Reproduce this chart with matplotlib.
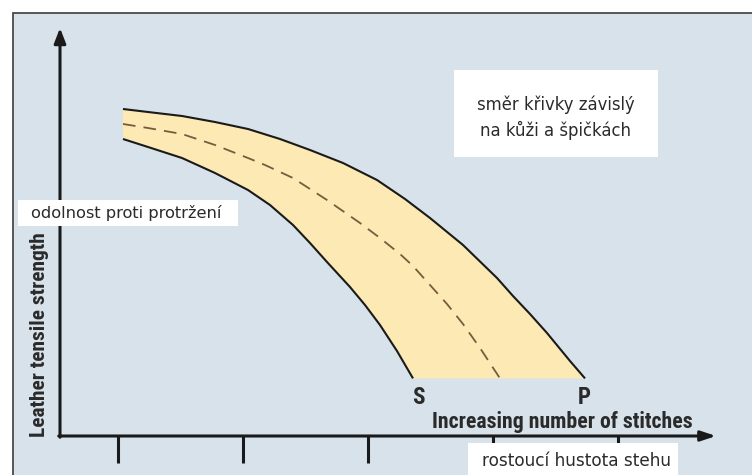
import matplotlib
matplotlib.use("Agg")
import matplotlib.pyplot as plt
from matplotlib import font_manager
from matplotlib.patches import Rectangle

# curve data (x: stitch density, y: leather tensile strength)
upper_x = [1.04, 1.24, 1.512, 1.776, 2.04, 2.296, 2.536, 2.80, 3.072,
           3.296, 3.496, 3.76, 4.032, 4.16, 4.296, 4.432, 4.616, 4.736]
upper_y = [8.175, 8.10, 8.00, 7.85, 7.675, 7.425, 7.15, 6.825, 6.40,
           5.925, 5.45, 4.775, 3.95, 3.50, 3.05, 2.575, 1.875, 1.44]

mid_x = [1.04, 1.24, 1.512, 1.776, 2.04, 2.176, 2.40, 2.672, 2.936,
         3.096, 3.256, 3.36, 3.632, 3.76, 3.896, 4.056]
mid_y = [7.80, 7.70, 7.55, 7.275, 6.95, 6.775, 6.45, 5.90, 5.325,
         4.95, 4.55, 4.25, 3.30, 2.80, 2.20, 1.44]

lower_x = [1.04, 1.24, 1.512, 1.776, 2.04, 2.216, 2.40, 2.536, 2.672,
           2.856, 2.976, 3.096, 3.232, 3.36]
lower_y = [7.425, 7.225, 6.95, 6.575, 6.15, 5.775, 5.275, 4.825, 4.35,
           3.725, 3.275, 2.775, 2.125, 1.44]

tick_pos = [1, 2, 3, 4, 5]

ylabel = "Leather tensile strength"
xlabel = "Increasing number of stitches"
ylabel_cz = "odolnost proti protržení"
xlabel_cz = "rostoucí hustota stehu"
note_cz = "směr křivky závislý\nna kůži a špičkách"

# pick a narrow bold face if one is installed
names = {f.name for f in font_manager.fontManager.ttflist}
narrow = "Liberation Sans"
for cand in ["Liberation Sans Narrow", "Roboto Condensed", "Open Sans Condensed",
             "DejaVu Sans Condensed", "Liberation Sans"]:
    if cand in names:
        narrow = cand
        break
plain = "DejaVu Sans"

fig = plt.figure(figsize=(7.52, 4.75), dpi=100)
ax = fig.add_axes([0, 0, 1, 1])
ax.set_xlim(0.056, 6.072)
ax.set_ylim(-0.975, 10.9)
ax.axis("off")
renderer = fig.canvas.get_renderer()


def fit(txt, target, vertical=False):
    # scale font so the text spans the same pixel length as the reference
    bb = txt.get_window_extent(renderer)
    size = bb.height if vertical else bb.width
    txt.set_fontsize(txt.get_fontsize() * target / size)


# background panel with top/left border
ax.add_patch(Rectangle((0.16, -3), 8, 13.575, facecolor="#d8e2ea",
                       edgecolor="#4a4a4a", linewidth=1.3, zorder=0))

# band between the two curves
poly_x = upper_x + lower_x[::-1]
poly_y = upper_y + lower_y[::-1]
ax.fill(poly_x, poly_y, color="#fce9b3", linewidth=0, zorder=1)
ax.plot(upper_x, upper_y, color="#1a1a1a", lw=1.5, zorder=2,
        solid_capstyle="butt", solid_joinstyle="round")
ax.plot(lower_x, lower_y, color="#1a1a1a", lw=1.5, zorder=2,
        solid_capstyle="butt", solid_joinstyle="round")
ax.plot(mid_x, mid_y, color="#7a5a3e", lw=1.3, linestyle=(0, (7, 4.5)), zorder=2)

# axes arrows
x0, y0 = 0.536, 0.0
ax.annotate("", xy=(x0, 10.2), xytext=(x0, y0 - 0.03),
            arrowprops=dict(arrowstyle="-|>,head_length=0.9,head_width=0.35",
                            color="#1a1a1a", lw=2.2, shrinkA=0, shrinkB=0))
ax.annotate("", xy=(5.784, y0), xytext=(x0 - 0.01, y0),
            arrowprops=dict(arrowstyle="-|>,head_length=0.9,head_width=0.3",
                            color="#1a1a1a", lw=2.2, shrinkA=0, shrinkB=0))
for t in tick_pos:
    ax.plot([t, t], [0, -0.68], color="#1a1a1a", lw=2.2, solid_capstyle="butt")

# white label boxes
ax.add_patch(Rectangle((0.2, 5.25), 1.76, 0.65, facecolor="white",
                       edgecolor="none", zorder=3))
ax.add_patch(Rectangle((3.688, 6.975), 1.632, 2.175, facecolor="white",
                       edgecolor="none", zorder=3))
ax.add_patch(Rectangle((3.8, -1.5), 1.68, 1.325, facecolor="white",
                       edgecolor="none", zorder=3))

t1 = ax.text(0.304, 5.575, ylabel_cz, ha="left", va="center", fontsize=12,
             family=plain, color="#2b2b2b", zorder=4)
fit(t1, 190)
t2 = ax.text(4.504, 7.95, note_cz, ha="center", va="center", fontsize=12,
             family=plain, color="#2b2b2b", linespacing=1.45, zorder=4)
fit(t2, 158)
t3 = ax.text(4.672, -0.62, xlabel_cz, ha="center", va="center", fontsize=12,
             family=plain, color="#2b2b2b", zorder=4)
fit(t3, 188)

t4 = ax.text(4.552, 0.35, xlabel, ha="center", va="center", fontsize=14,
             fontweight="bold", family=narrow, color="#2a2a2a")
fit(t4, 262)
t5 = ax.text(0.376, 2.525, ylabel, ha="center", va="center", fontsize=13,
             fontweight="bold", family=narrow, color="#2a2a2a", rotation=90)
fit(t5, 204, vertical=True)
ax.text(3.4, 0.975, "S", ha="center", va="center", fontsize=16.5,
        fontweight="bold", family=narrow, color="#2a2a2a")
ax.text(4.728, 0.975, "P", ha="center", va="center", fontsize=16.5,
        fontweight="bold", family=narrow, color="#2a2a2a")

fig.savefig("out.png", dpi=100, facecolor="white")
